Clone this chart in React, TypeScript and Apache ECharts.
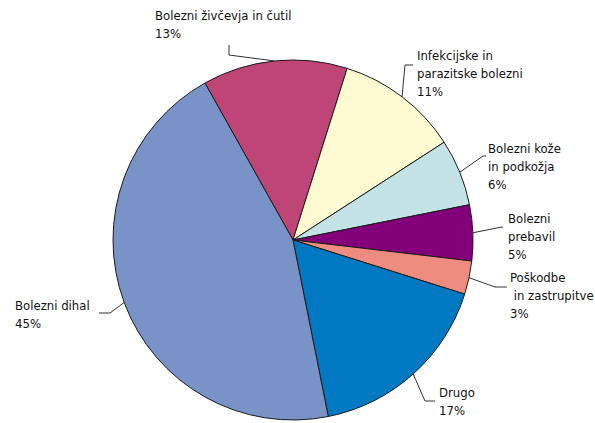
import React, { useEffect, useRef } from "react";
import * as echarts from "echarts";

const categories = [
  "Bolezni živčevja in čutil",
  "Infekcijske in\nparazitske bolezni",
  "Bolezni kože\nin podkožja",
  "Bolezni\nprebavil",
  "Poškodbe\n in zastrupitve",
  "Drugo",
  "Bolezni dihal",
];
const values = [13, 11, 6, 5, 3, 17, 45];
const colors = ["#BF4577", "#FEFAD2", "#C3E3E6", "#84007B", "#EF8C80", "#0079C2", "#7993C9"];

// label text anchor (top-left) and leader line bend/end points
const labelPos: [number, number][] = [
  [155, 6],
  [417, 46],
  [488, 139],
  [508, 209],
  [510, 268],
  [439, 383],
  [15, 296],
];
const linePts: [number, number][][] = [
  [[229, 55], [229, 45]],
  [[405, 65], [413, 65]],
  [[483, 156], [486, 156]],
  [[502, 227], [503, 227]],
  [[495, 287], [507, 287]],
  [[425, 401], [435, 401]],
  [[110, 313], [99, 313]],
];

export default function App() {
  const ref = useRef<HTMLDivElement>(null);
  useEffect(() => {
    document.body.style.margin = "0";
    const chart = echarts.init(ref.current!, null, { renderer: "svg" });
    chart.setOption({
      animation: false,
      backgroundColor: "#ffffff",
      series: [
        {
          type: "pie",
          center: [293, 240],
          radius: 180,
          startAngle: 119.3,
          clockwise: true,
          avoidLabelOverlap: false,
          data: categories.map((c, i) => ({
            name: c,
            value: values[i],
            itemStyle: { color: colors[i] },
          })),
          itemStyle: { borderColor: "#1a1a1a", borderWidth: 1 },
          label: {
            show: true,
            position: "outside",
            formatter: (p: any) => `${p.name}\n${p.value}%`,
            color: "#111",
            fontSize: 13,
            lineHeight: 18,
            fontFamily: "'DejaVu Sans Condensed', sans-serif",
          },
          labelLine: {
            show: true,
            lineStyle: { color: "#333", width: 1 },
          },
          labelLayout: (params: any) => {
            const i = params.dataIndex;
            const start = params.labelLinePoints ? params.labelLinePoints[0] : linePts[i][0];
            return {
              x: labelPos[i][0],
              y: labelPos[i][1],
              align: "left",
              verticalAlign: "top",
              labelLinePoints: [start, linePts[i][0], linePts[i][1]],
            };
          },
        },
      ],
    });
    return () => chart.dispose();
  }, []);
  return <div ref={ref} style={{ width: 595, height: 423 }} />;
}
